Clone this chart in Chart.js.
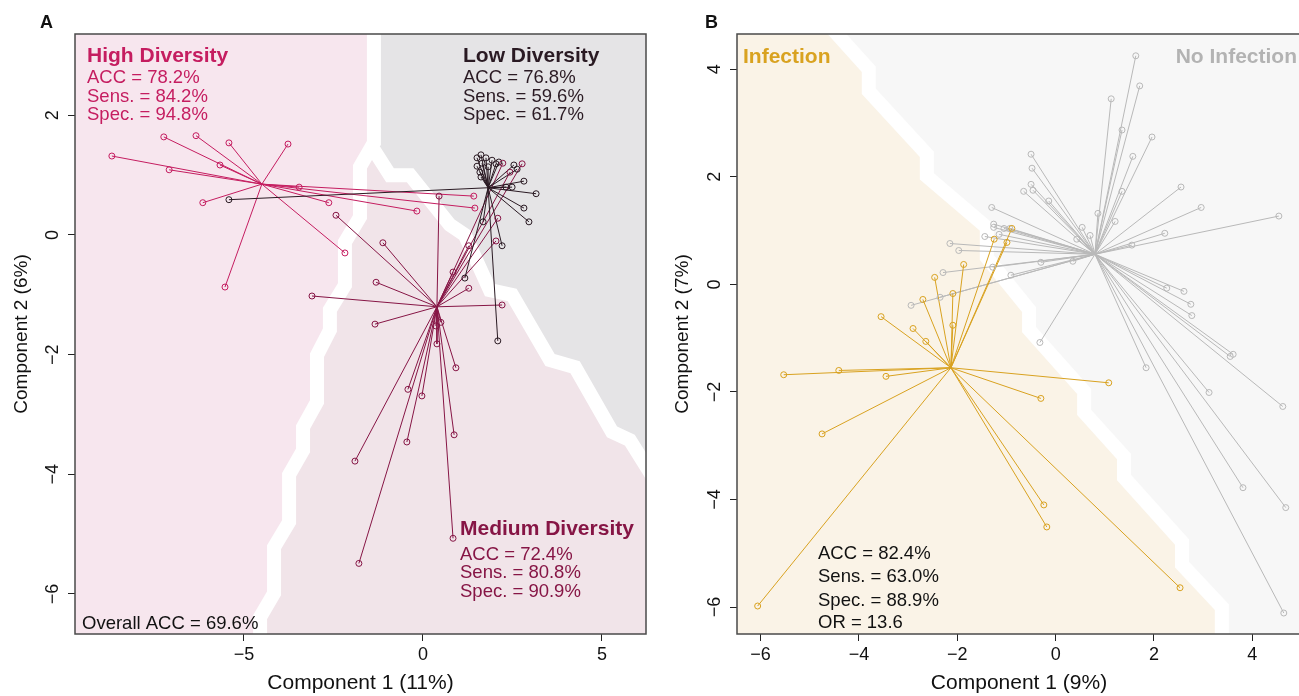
<!DOCTYPE html>
<html>
<head>
<meta charset="utf-8">
<script src="https://cdn.jsdelivr.net/npm/chart.js@4.4.0/dist/chart.umd.min.js"></script>
<style>
  html, body { margin: 0; padding: 0; background: #ffffff; }
  #wrap { position: relative; width: 1299px; height: 696px; overflow: hidden; }
  canvas { position: absolute; top: 0; }
</style>
</head>
<body>
<div id="wrap">
  <canvas id="panelA" width="655" height="696" style="left:0px"></canvas>
  <canvas id="panelB" width="660" height="696" style="left:655px"></canvas>
</div>
<script>
// ---------- Panel A: diversity groups ----------
const A_X_TICKS = [-5, 0, 5];
const A_Y_TICKS = [-6, -4, -2, 0, 2];

const highCentroid = [-4.50, 0.85];
const highPoints = [
  [-8.69, 1.32], [-7.24, 1.64], [-6.34, 1.66], [-5.42, 1.54], [-3.77, 1.52],
  [-7.09, 1.09], [-5.67, 1.17], [-3.46, 0.80], [-6.15, 0.54], [-2.63, 0.54],
  [-2.18, -0.30], [-5.53, -0.87], [-0.17, 0.40], [1.42, 0.65], [1.45, 0.45]
];

const lowCentroid = [1.82, 0.79];
const lowPoints = [
  [1.62, 1.34], [1.51, 1.29], [1.65, 1.20], [1.51, 1.15], [1.59, 1.05],
  [1.82, 1.14], [1.93, 1.25], [2.04, 1.19], [2.12, 1.22], [2.54, 1.17],
  [2.63, 1.10], [2.82, 0.90], [2.49, 0.80], [2.32, 0.80], [3.16, 0.69],
  [2.82, 0.45], [2.96, 0.22], [1.68, 0.22], [2.21, -0.18], [1.17, -0.72],
  [2.09, -1.77], [-5.42, 0.59], [1.62, 0.97], [1.76, 1.29]
];

const mediumCentroid = [0.39, -1.20];
const mediumPoints = [
  [-2.43, 0.33], [-1.12, -0.13], [-1.31, -0.79], [-3.10, -1.02], [-1.34, -1.49],
  [1.28, -0.89], [2.21, -1.17], [0.84, -0.62], [0.39, -1.82], [0.50, -1.46],
  [0.36, -1.52], [0.92, -2.22], [-0.42, -2.58], [-0.03, -2.69], [-0.45, -3.46],
  [0.87, -3.34], [0.84, -5.07], [-1.79, -5.49], [-1.90, -3.78], [0.45, 0.65],
  [2.09, 0.28], [2.04, -0.10], [1.28, -0.18], [2.23, 1.20], [2.77, 1.19], [2.43, 1.05]
];

// class boundaries of the diversity classifier (component space)
const highBoundary = [
  [-1.37, 3.6], [-1.37, 1.54], [-1.76, 1.14], [-1.76, 0.30], [-2.18, -0.12],
  [-2.18, -0.84], [-2.60, -1.25], [-2.60, -1.59], [-2.96, -2.01], [-2.96, -2.79],
  [-3.35, -3.21], [-3.35, -3.60], [-3.74, -4.01], [-3.74, -4.80], [-4.16, -5.22],
  [-4.16, -5.99], [-4.55, -6.39], [-4.55, -7.0]
];
const lowBoundary = [
  [-1.37, 1.42], [-0.92, 1.00], [-0.36, 1.00], [0.75, 0.17], [1.17, 0.00],
  [1.87, -0.92], [2.49, -1.00], [3.55, -2.09], [4.25, -2.21], [5.28, -3.29],
  [5.78, -3.43], [6.48, -4.10]
];

// ---------- Panel B: infection status ----------
const B_X_TICKS = [-6, -4, -2, 0, 2, 4];
const B_Y_TICKS = [-6, -4, -2, 0, 2, 4];

const infectionCentroid = [-2.13, -1.55];
const infectionPoints = [
  [-5.53, -1.68], [-4.41, -1.60], [-3.45, -1.71], [-4.75, -2.78], [-6.06, -5.98],
  [-2.64, -1.06], [-2.90, -0.82], [-3.55, -0.60], [-2.46, 0.13], [-1.87, 0.37],
  [-2.09, -0.76], [-2.70, -0.28], [-2.09, -0.17], [-1.25, 0.84], [-0.99, 0.78],
  [-0.89, 1.04], [1.08, -1.83], [-0.30, -2.12], [-0.24, -4.10], [-0.18, -4.51],
  [2.53, -5.64]
];

const noInfectionCentroid = [0.80, 0.56];
const noInfectionPoints = [
  [1.63, 4.25], [1.71, 3.69], [1.13, 3.45], [1.35, 2.87], [1.96, 2.74],
  [1.57, 2.38], [-0.50, 2.42], [-0.48, 2.16], [-0.50, 1.86], [-0.46, 1.75],
  [-0.65, 1.73], [-0.14, 1.55], [1.35, 1.73], [2.55, 1.81], [2.96, 1.43],
  [4.54, 1.27], [0.86, 1.32], [1.21, 1.17], [0.54, 1.06], [0.70, 0.91],
  [0.43, 0.84], [2.22, 0.95], [1.55, 0.73], [2.26, -0.07], [2.61, -0.13],
  [2.75, -0.37], [2.77, -0.58], [-0.32, -1.08], [-0.30, 0.41], [0.35, 0.43],
  [-0.91, 0.17], [1.84, -1.55], [3.55, -1.34], [3.61, -1.30], [3.12, -2.01],
  [4.62, -2.27], [3.81, -3.78], [4.68, -4.15], [4.64, -6.11], [-1.30, 1.43],
  [-1.26, 1.12], [-1.26, 1.06], [-1.05, 1.04], [-0.93, 1.04], [-1.15, 0.93],
  [-1.44, 0.89], [-2.15, 0.76], [-1.97, 0.63], [-2.29, 0.22], [-1.28, 0.32],
  [-2.35, -0.24], [-2.94, -0.39]
];

const infectionBoundary = [
  [-4.63, 4.84], [-3.80, 4.00], [-3.80, 3.59], [-2.62, 2.42], [-2.62, 2.01],
  [-1.40, 1.06], [-1.40, 0.50], [-0.54, -0.47], [-0.54, -0.84], [0.58, -1.99],
  [0.58, -2.38], [1.39, -3.20], [1.39, -3.59], [2.57, -4.79], [2.57, -5.21],
  [3.38, -6.00], [3.38, -6.70]
];

// ---------- styling ----------
const FONT = '"Liberation Sans", Arial, Helvetica, sans-serif';
const COL = {
  high: '#C51D60', medium: '#861545', low: '#2A1A23',
  infection: '#D9A220', noInfection: '#B9B9B9'
};

const fmt = v => (v < 0 ? '\u2212' + Math.abs(v) : String(v));

function spokes(c, pts) {
  const out = [];
  pts.forEach(p => {
    out.push({ x: c[0], y: c[1] }, { x: p[0], y: p[1] }, { x: p[0], y: null });
  });
  return out;
}
function circles(pts) { return pts.map(p => ({ x: p[0], y: p[1] })); }

function circleSet(pts, color) {
  return {
    data: circles(pts), showLine: false, pointStyle: 'circle', pointRadius: 3,
    pointBorderWidth: 1, pointBorderColor: color, pointBackgroundColor: 'rgba(0,0,0,0)'
  };
}
function spokeSet(c, pts, color) {
  return {
    data: spokes(c, pts), showLine: true, spanGaps: false, borderColor: color,
    borderWidth: 1, pointRadius: 0, fill: false
  };
}

// background decision regions with white separating bands
const regionPlugin = {
  id: 'regions',
  beforeDatasetsDraw(chart, args, o) {
    const { ctx, chartArea: a, scales: { x, y } } = chart;
    const path = pts => {
      ctx.beginPath();
      pts.forEach(([vx, vy], i) => {
        const px = x.getPixelForValue(vx), py = y.getPixelForValue(vy);
        if (i) ctx.lineTo(px, py); else ctx.moveTo(px, py);
      });
    };
    ctx.save();
    ctx.beginPath();
    ctx.rect(a.left, a.top, a.width, a.height);
    ctx.clip();
    ctx.fillStyle = o.base;
    ctx.fillRect(a.left, a.top, a.width, a.height);
    o.fills.forEach(f => {
      path(f.pts);
      ctx.closePath();
      ctx.fillStyle = f.color;
      ctx.fill();
    });
    ctx.strokeStyle = '#ffffff';
    ctx.lineWidth = 14;
    ctx.lineJoin = 'miter';
    o.bounds.forEach(b => { path(b); ctx.stroke(); });
    ctx.restore();
  }
};

// frame, rotated y tick labels and text annotations
const decorPlugin = {
  id: 'decor',
  afterDraw(chart, args, o) {
    const { ctx, chartArea: a, scales: { y } } = chart;
    ctx.save();
    ctx.strokeStyle = '#4a4a4a';
    ctx.lineWidth = 1.5;
    ctx.strokeRect(a.left, a.top, a.width, a.height);

    ctx.font = '18px ' + FONT;
    ctx.fillStyle = '#111111';
    ctx.textAlign = 'center';
    ctx.textBaseline = 'middle';
    y.ticks.forEach(t => {
      const py = y.getPixelForValue(t.value);
      ctx.save();
      ctx.translate(o.yLabelX, py);
      ctx.rotate(-Math.PI / 2);
      ctx.fillText(fmt(t.value), 0, 0);
      ctx.restore();
    });

    ctx.textBaseline = 'alphabetic';
    o.notes.forEach(n => {
      ctx.font = (n.bold ? 'bold ' : '') + n.size + 'px ' + FONT;
      ctx.fillStyle = n.color;
      ctx.textAlign = n.align || 'left';
      ctx.fillText(n.text, n.x, n.y);
    });
    ctx.restore();
  }
};

function makePanel(id, p) {
  return new Chart(document.getElementById(id), {
    type: 'scatter',
    data: { datasets: p.datasets },
    plugins: [regionPlugin, decorPlugin],
    options: {
      responsive: false, maintainAspectRatio: false, animation: false, devicePixelRatio: 1,
      layout: { padding: { top: 34, right: p.padRight, left: 0, bottom: 0 } },
      plugins: {
        legend: { display: false }, tooltip: { enabled: false },
        regions: p.regions, decor: p.decor
      },
      scales: {
        x: {
          type: 'linear', min: p.xMin, max: p.xMax,
          afterBuildTicks: s => { s.ticks = p.xTicks.map(v => ({ value: v })); },
          afterFit: s => { s.height = 62; },
          grid: { drawOnChartArea: false, drawTicks: true, tickLength: 7, tickColor: '#222', tickWidth: 1 },
          border: { display: false },
          ticks: { font: { family: FONT, size: 18 }, color: '#111', padding: 3, maxRotation: 0, autoSkip: false, callback: v => fmt(v) },
          title: { display: true, text: p.xTitle, color: '#111', font: { family: FONT, size: 21 }, padding: { top: 0, bottom: 0 } }
        },
        y: {
          type: 'linear', min: p.yMin, max: p.yMax,
          afterBuildTicks: s => { s.ticks = p.yTicks.map(v => ({ value: v })); },
          afterFit: s => { s.width = p.yAxisWidth; },
          grid: { drawOnChartArea: false, drawTicks: true, tickLength: 7, tickColor: '#222', tickWidth: 1 },
          border: { display: false },
          ticks: { font: { family: FONT, size: 18 }, color: 'rgba(0,0,0,0)', padding: 4, autoSkip: false, callback: v => fmt(v) },
          title: { display: true, text: p.yTitle, color: '#111', font: { family: FONT, size: 19 }, padding: { top: p.yTitlePad, bottom: 0 } }
        }
      }
    }
  });
}

// Panel A
makePanel('panelA', {
  xMin: -9.72, xMax: 6.23, yMin: -6.67, yMax: 3.36,
  xTicks: A_X_TICKS, yTicks: A_Y_TICKS, padRight: 9, yAxisWidth: 75, yTitlePad: 10.6,
  xTitle: 'Component 1 (11%)', yTitle: 'Component 2 (6%)',
  datasets: [
    circleSet(highPoints, COL.high),
    circleSet(mediumPoints, COL.medium),
    circleSet(lowPoints, COL.low),
    spokeSet(lowCentroid, lowPoints, COL.low),
    spokeSet(highCentroid, highPoints, COL.high),
    spokeSet(mediumCentroid, mediumPoints, COL.medium)
  ],
  regions: {
    base: '#F1E4E9',
    fills: [
      { color: '#F7E6EE', pts: highBoundary.concat([[-11, -7.5], [-11, 4]]) },
      { color: '#E5E4E6', pts: [[-1.37, 4]].concat(lowBoundary, [[7, -4.6], [7, 4]]) }
    ],
    bounds: [highBoundary, lowBoundary]
  },
  decor: {
    yLabelX: 53,
    notes: [
      { text: 'A', x: 40, y: 28, size: 18, bold: true, color: '#111' },
      { text: 'High Diversity', x: 87, y: 62, size: 21, bold: true, color: COL.high },
      { text: 'ACC = 78.2%', x: 87, y: 83, size: 18.5, color: COL.high },
      { text: 'Sens. = 84.2%', x: 87, y: 102, size: 18.5, color: COL.high },
      { text: 'Spec. = 94.8%', x: 87, y: 120, size: 18.5, color: COL.high },
      { text: 'Low Diversity', x: 463, y: 62, size: 21, bold: true, color: COL.low },
      { text: 'ACC = 76.8%', x: 463, y: 83, size: 18.5, color: COL.low },
      { text: 'Sens. = 59.6%', x: 463, y: 102, size: 18.5, color: COL.low },
      { text: 'Spec. = 61.7%', x: 463, y: 120, size: 18.5, color: COL.low },
      { text: 'Medium Diversity', x: 460, y: 535, size: 21, bold: true, color: COL.medium },
      { text: 'ACC = 72.4%', x: 460, y: 560, size: 18.5, color: COL.medium },
      { text: 'Sens. = 80.8%', x: 460, y: 578, size: 18.5, color: COL.medium },
      { text: 'Spec. = 90.9%', x: 460, y: 597, size: 18.5, color: COL.medium },
      { text: 'Overall ACC = 69.6%', x: 82, y: 629, size: 18.5, color: '#111' }
    ]
  }
});

// Panel B (canvas starts 655px from the left of the figure; its right edge runs past the figure)
makePanel('panelB', {
  xMin: -6.48, xMax: 4.99, yMin: -6.50, yMax: 4.655,
  xTicks: B_X_TICKS, yTicks: B_Y_TICKS, padRight: 14, yAxisWidth: 82, yTitlePad: 16.6,
  xTitle: 'Component 1 (9%)', yTitle: 'Component 2 (7%)',
  datasets: [
    circleSet(infectionPoints, COL.infection),
    circleSet(noInfectionPoints, COL.noInfection),
    spokeSet(infectionCentroid, infectionPoints, COL.infection),
    spokeSet(noInfectionCentroid, noInfectionPoints, COL.noInfection)
  ],
  regions: {
    base: '#F7F7F7',
    fills: [
      { color: '#FAF3E7', pts: infectionBoundary.concat([[-7.5, -7.5], [-7.5, 5.5]]) }
    ],
    bounds: [infectionBoundary]
  },
  decor: {
    yLabelX: 60,
    notes: [
      { text: 'B', x: 50, y: 28, size: 18, bold: true, color: '#111' },
      { text: 'Infection', x: 88, y: 63, size: 21, bold: true, color: COL.infection },
      { text: 'No Infection', x: 642, y: 63, size: 21, bold: true, color: '#B3B3B3', align: 'right' },
      { text: 'ACC = 82.4%', x: 163, y: 559, size: 18.5, color: '#111' },
      { text: 'Sens. = 63.0%', x: 163, y: 582, size: 18.5, color: '#111' },
      { text: 'Spec. = 88.9%', x: 163, y: 606, size: 18.5, color: '#111' },
      { text: 'OR = 13.6', x: 163, y: 628, size: 18.5, color: '#111' }
    ]
  }
});
</script>
</body>
</html>
